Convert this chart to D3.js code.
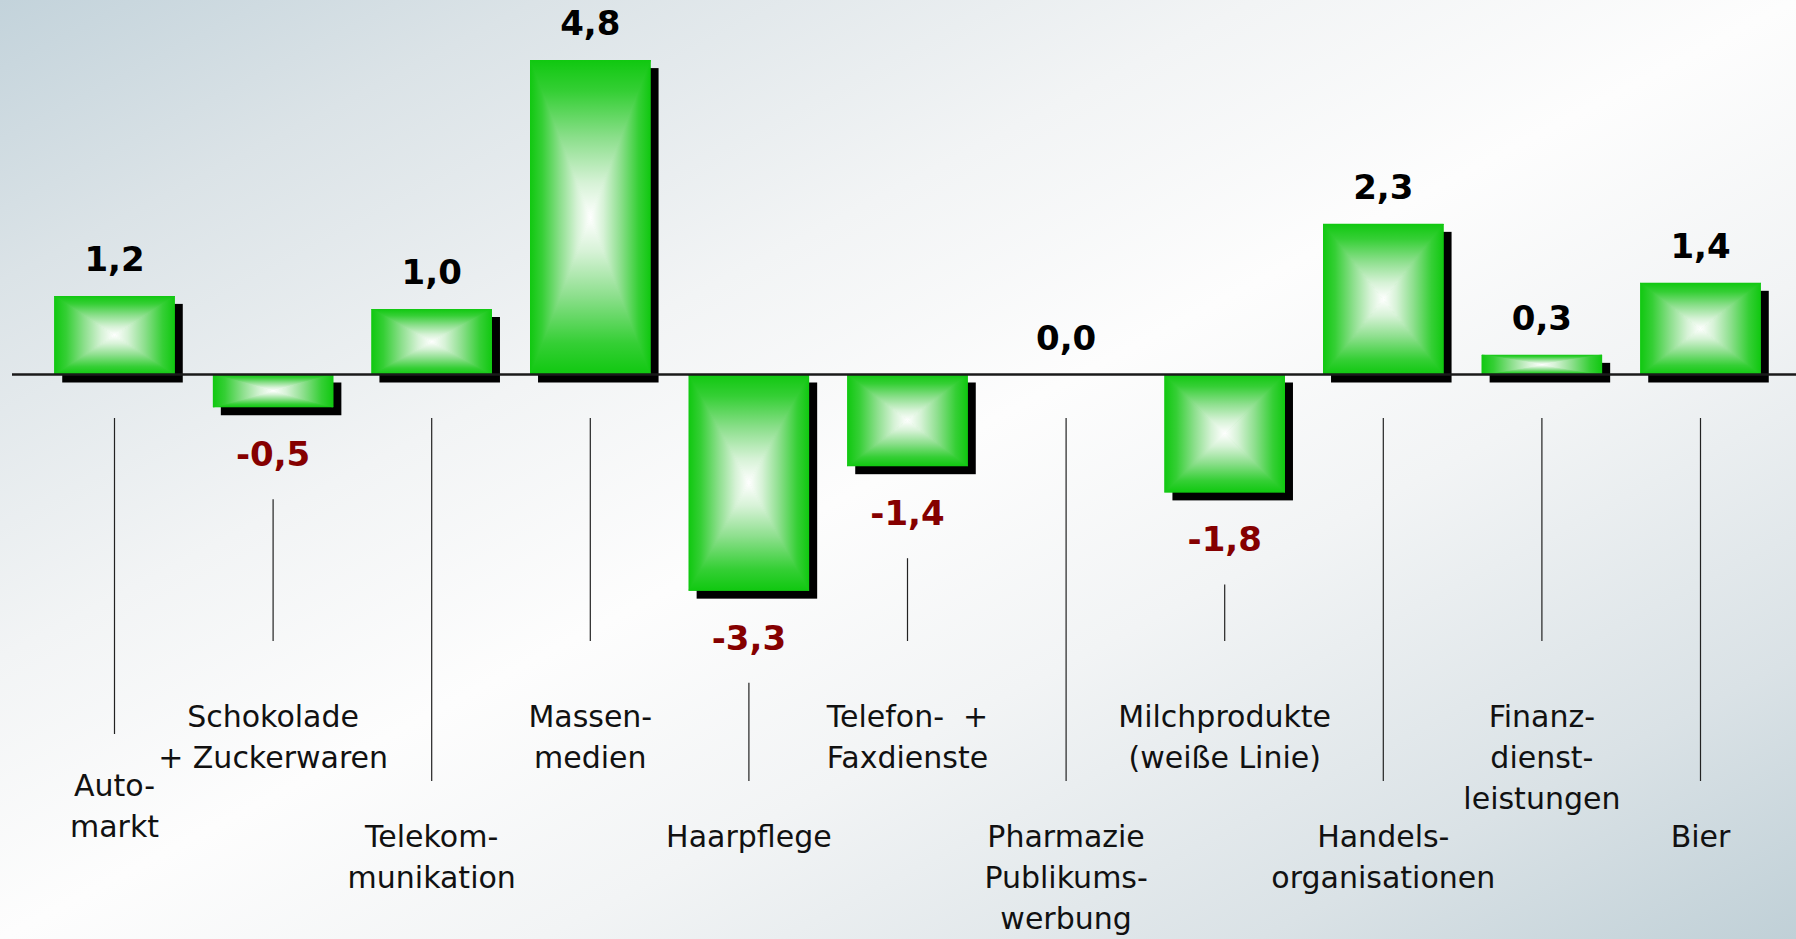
<!DOCTYPE html>
<html lang='de'>
<head>
  <meta charset='UTF-8'>
  <title>Veränderung</title>
  <script src='https://d3js.org/d3.v7.min.js'></script>
  <style>
    body { margin: 0; overflow: hidden; }
    #main { width: 1796px; height: 939px; }
    text { font-family: 'DejaVu Sans', sans-serif; white-space: pre; }
  </style>
</head>
<body>
<div id='main'></div>
<script>
  // categories (line breaks as in the original slide)
  const categories = [
    'Auto-\nmarkt',
    'Schokolade\n+ Zuckerwaren',
    'Telekom-\nmunikation',
    'Massen-\nmedien',
    'Haarpflege',
    'Telefon-  +\nFaxdienste',
    'Pharmazie\nPublikums-\nwerbung',
    'Milchprodukte\n(weiße Linie)',
    'Handels-\norganisationen',
    'Finanz-\ndienst-\nleistungen',
    'Bier'
  ]
  const values = [1.2, -0.5, 1.0, 4.8, -3.3, -1.4, 0.0, -1.8, 2.3, 0.3, 1.4]
  // which text row a category label sits in (0 = upper, 1 = middle, 2 = lower)
  const labelRow = [1, 0, 2, 0, 2, 0, 2, 0, 2, 0, 2]

  const width = 1796
  const height = 939
  const zeroY = 374.5
  const unit = 65.5
  const shadow = 8
  const rowBaseline = [727, 796, 847]
  const rowLineEnd = [641, 734, 781]
  const lineHeight = 41
  const negColor = '#850000'

  const de = d3.formatLocale({decimal: ',', thousands: '.', grouping: [3], currency: ['', ' €'], minus: '-'})
  const fmt = de.format('.1f')

  const svg = d3.select('#main').append('svg')
    .attr('width', width)
    .attr('height', height)

  const defs = svg.append('defs')

  // background: light diagonal gradient, white along the other diagonal
  const bg = defs.append('linearGradient').attr('id', 'bg')
    .attr('x1', 0).attr('y1', 0).attr('x2', 1).attr('y2', 1)
  ;[[0, '#c3d3db'], [0.15, '#dbe3e7'], [0.35, '#f2f4f5'], [0.5, '#fdfdfd'],
    [0.65, '#f2f4f5'], [0.85, '#dae2e6'], [1, '#c0d0d7']].forEach(s => {
    bg.append('stop').attr('offset', s[0]).attr('stop-color', s[1])
  })
  svg.append('rect').attr('width', width).attr('height', height).attr('fill', 'url(#bg)')

  // bar fill: four triangles, each fading from green edge to white centre
  const barStops = [[0, '#10c810'], [0.2, '#35cf35'], [0.5, '#8ddf8d'], [0.78, '#d6f2d6'], [1, '#ffffff']]
  const dirs = {
    top: [0, 0, 0, 1],
    bottom: [0, 1, 0, 0],
    left: [0, 0, 1, 0],
    right: [1, 0, 0, 0]
  }
  Object.keys(dirs).forEach(k => {
    const g = defs.append('linearGradient').attr('id', 'g-' + k)
      .attr('x1', dirs[k][0]).attr('y1', dirs[k][1])
      .attr('x2', dirs[k][2]).attr('y2', dirs[k][3])
    barStops.forEach(s => g.append('stop').attr('offset', s[0]).attr('stop-color', s[1]))
  })

  const x = d3.scaleBand()
    .domain(d3.range(categories.length))
    .range([35.2, 35.2 + 11 * 158.6])
    .paddingInner(0.24)
    .paddingOuter(0.12)

  const y = d3.scaleLinear()
    .domain([-5, 5])
    .range([zeroY + 5 * unit, zeroY - 5 * unit])

  const data = values.map((v, i) => ({i: i, v: v, name: categories[i], row: labelRow[i]}))
  const cx = d => x(d.i) + x.bandwidth() / 2
  const barTop = d => Math.min(y(d.v), y(0))
  const barBot = d => Math.max(y(d.v), y(0))

  // shadows
  svg.append('g').selectAll('rect')
    .data(data.filter(d => d.v !== 0))
    .enter().append('rect')
    .attr('x', d => x(d.i) + shadow)
    .attr('y', d => barTop(d) + shadow)
    .attr('width', x.bandwidth())
    .attr('height', d => barBot(d) - barTop(d))
    .attr('fill', '#000')

  // bars
  const bars = svg.append('g').selectAll('g')
    .data(data.filter(d => d.v !== 0))
    .enter().append('g')
    .attr('clip-path', d => 'url(#clip-' + d.i + ')')

  defs.selectAll('clipPath')
    .data(data.filter(d => d.v !== 0))
    .enter().append('clipPath')
    .attr('id', d => 'clip-' + d.i)
    .append('rect')
    .attr('x', d => x(d.i))
    .attr('y', barTop)
    .attr('width', x.bandwidth())
    .attr('height', d => barBot(d) - barTop(d))

  bars.append('rect')
    .attr('x', d => x(d.i))
    .attr('y', barTop)
    .attr('width', x.bandwidth())
    .attr('height', d => barBot(d) - barTop(d))
    .attr('fill', '#10c810')

  const tri = function (k) {
    return function (d) {
      const x0 = x(d.i), x1 = x0 + x.bandwidth()
      const y0 = barTop(d), y1 = barBot(d)
      const mx = (x0 + x1) / 2, my = (y0 + y1) / 2
      const p = d3.path()
      if (k === 'top') { p.moveTo(x0, y0); p.lineTo(x1, y0) }
      if (k === 'bottom') { p.moveTo(x0, y1); p.lineTo(x1, y1) }
      if (k === 'left') { p.moveTo(x0, y0); p.lineTo(x0, y1) }
      if (k === 'right') { p.moveTo(x1, y0); p.lineTo(x1, y1) }
      p.lineTo(mx, my)
      p.closePath()
      return p.toString()
    }
  }
  Object.keys(dirs).forEach(k => {
    bars.append('path')
      .attr('d', tri(k))
      .attr('fill', 'url(#g-' + k + ')')
      .attr('stroke', 'url(#g-' + k + ')')
      .attr('stroke-width', 1)
      .attr('stroke-linejoin', 'round')
  })

  // zero line
  svg.append('line')
    .attr('x1', 12).attr('x2', width)
    .attr('y1', y(0)).attr('y2', y(0))
    .attr('stroke', '#1a1a1a')
    .attr('stroke-width', 2.5)

  // value labels
  const valueY = d => d.v < 0 ? y(d.v) + 59 : y(d.v) - 25
  svg.append('g').selectAll('text')
    .data(data)
    .enter().append('text')
    .attr('x', cx)
    .attr('y', valueY)
    .attr('text-anchor', 'middle')
    .style('font-size', '34px')
    .style('font-weight', 'bold')
    .attr('fill', d => d.v < 0 ? negColor : '#000')
    .text(d => fmt(d.v))

  // leader lines from bar to category label
  svg.append('g').selectAll('line')
    .data(data)
    .enter().append('line')
    .attr('x1', cx).attr('x2', cx)
    .attr('y1', d => d.v < 0 ? valueY(d) + 33 : y(0) + 43.5)
    .attr('y2', d => rowLineEnd[d.row])
    .attr('stroke', '#222')
    .attr('stroke-width', 1.2)

  // category labels
  const labels = svg.append('g').selectAll('text')
    .data(data)
    .enter().append('text')
    .attr('x', cx)
    .attr('y', d => rowBaseline[d.row])
    .attr('text-anchor', 'middle')
    .style('font-size', '30px')
    .attr('fill', '#111')

  labels.selectAll('tspan')
    .data(d => d.name.split('\n').map((t, j) => ({t: t, j: j, x: cx(d)})))
    .enter().append('tspan')
    .attr('x', t => t.x)
    .attr('dy', t => t.j === 0 ? 0 : lineHeight)
    .text(t => t.t)
</script>
</body>
</html>
